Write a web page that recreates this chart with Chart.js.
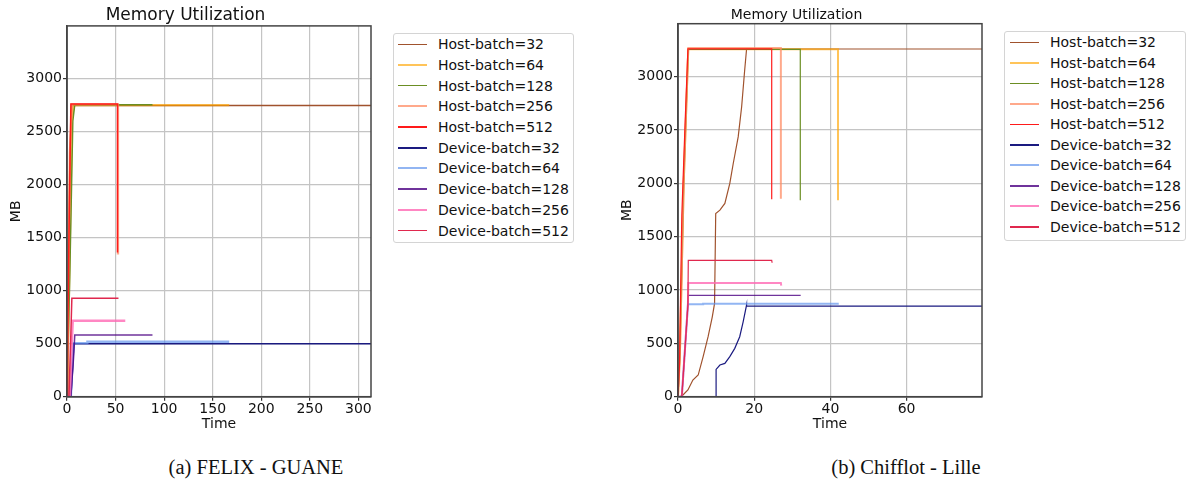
<!DOCTYPE html>
<html>
<head>
<meta charset="utf-8">
<script src="https://cdn.jsdelivr.net/npm/chart.js@4.4.1/dist/chart.umd.min.js"></script>
<style>
  body { margin: 0; background: #fff; width: 1189px; height: 486px; overflow: hidden; position: relative; font-family: "DejaVu Sans", sans-serif; }
  canvas { position: absolute; top: 0; }
  #felixChart { left: 0; }
  #chifChart { left: 611px; }
  .legend { position: absolute; border: 1px solid #d4d4d4; border-radius: 3px; background: #fff; box-sizing: border-box; }
  .legend .row { display: flex; align-items: center; font-size: 14px; color: #111; white-space: nowrap; }
  .legend .swatch { flex: none; }
  .caption { position: absolute; width: 400px; text-align: center; font-family: "Liberation Serif", serif; font-size: 20.5px; line-height: 24px; top: 455px; color: #111; }
</style>
</head>
<body>
<canvas id="felixChart" width="380" height="440"></canvas>
<canvas id="chifChart" width="380" height="440"></canvas>
<div id="felixLegend" class="legend" style="left:393px; top:33px; width:181px; height:210px;"></div>
<div id="chifLegend" class="legend" style="left:1004px; top:31px; width:182px; height:210px;"></div>
<div class="caption" style="left:56px;">(a) FELIX - GUANE</div>
<div class="caption" style="left:706px;">(b) Chifflot - Lille</div>
<script>
const seriesLabels = ['Host-batch=32', 'Host-batch=64', 'Host-batch=128', 'Host-batch=256', 'Host-batch=512',
                      'Device-batch=32', 'Device-batch=64', 'Device-batch=128', 'Device-batch=256', 'Device-batch=512'];
const seriesColors = ['#a0522d', 'rgba(255,165,0,0.65)', '#6b8e23', 'rgba(255,140,100,0.75)', '#ff1a1a',
                      '#1a1a80', 'rgba(100,149,237,0.7)', 'rgba(75,0,130,0.8)', 'rgba(255,105,180,0.8)', '#e0284e'];
const extraWidth = [0, 0.8, 0, 0.8, 0, 0, 0.8, 0, 0.8, 0];

const yTicks = [0, 500, 1000, 1500, 2000, 2500, 3000];
const felixXTicks = [0, 50, 100, 150, 200, 250, 300];
const chifXTicks = [0, 20, 40, 60];

// FELIX - GUANE : [time, MB]
const felixHost32 = [[0, 0], [1, 600], [3, 2300], [5, 2745], [313, 2745]];
const felixHost64 = [[0, 0], [2, 1000], [5, 2600], [7, 2748], [167, 2748]];
const felixHost128 = [[0, 0], [3, 1200], [6, 2600], [8, 2752], [88, 2752]];
const felixHost256 = [[0, 0], [1, 900], [3, 2300], [5, 2755], [52.5, 2755], [52.5, 1340]];
const felixHost512 = [[0, 0], [2, 1500], [4, 2760], [52, 2760], [52, 1360]];
const felixDev32 = [[0, 0], [4, 0], [6, 300], [7, 500], [313, 500]];
const felixDev64 = [[0, 0], [4, 0], [6, 400], [7, 505], [21, 505], [21, 518], [167, 518]];
const felixDev128 = [[0, 0], [4, 0], [7, 400], [8, 581], [88, 581]];
const felixDev256 = [[0, 0], [3, 0], [5, 500], [6, 716], [60, 716]];
const felixDev512 = [[0, 0], [2, 0], [4, 600], [5, 927], [53, 927]];

// Chifflot - Lille : [time, MB]
const chifHost32 = [[0, 0], [0.5, 0], [1.3, 16], [2.6, 63], [3.9, 156], [5.3, 203], [6.6, 375], [7.9, 562], [9.0, 749],
                    [9.6, 874], [9.9, 1717], [11.0, 1748], [12.3, 1811], [13.6, 1998], [14.5, 2185], [15.8, 2434],
                    [16.7, 2715], [17.5, 3059], [18.0, 3258], [79.8, 3258]];
const chifHost64 = [[0, 0], [0.5, 400], [1.5, 2000], [2.7, 3255], [42, 3255], [42, 1840]];
const chifHost128 = [[0, 0], [0.5, 400], [1.5, 2000], [2.7, 3255], [32.1, 3255], [32.1, 1840]];
const chifHost256 = [[0, 0], [0.5, 400], [1.5, 2000], [2.7, 3268], [27, 3268], [27, 1855]];
const chifHost512 = [[0, 0], [0.4, 300], [1, 1700], [1.8, 2500], [2.6, 3260], [24.6, 3260], [24.6, 1850]];
const chifDev32 = [[0, 0], [10, 0], [10, 256], [11, 297], [12.3, 312], [13.6, 375], [14.9, 453], [16.2, 562],
                   [17.1, 702], [18, 859], [18, 849], [79.8, 849]];
const chifDev64 = [[0, 0], [1, 0], [2.6, 860], [2.7, 866], [6.6, 866], [6.6, 870], [42.2, 870]];
const chifDev128 = [[0, 0], [1, 0], [2.6, 860], [2.7, 949], [32.2, 949]];
const chifDev256 = [[0, 0], [1, 0], [2.6, 860], [2.7, 1065], [27, 1065], [27.1, 1040]];
const chifDev512 = [[0, 0], [1, 0], [2.6, 860], [2.7, 1277], [24.6, 1277], [24.7, 1255]];

const felixSeries = [felixHost32, felixHost64, felixHost128, felixHost256, felixHost512,
                     felixDev32, felixDev64, felixDev128, felixDev256, felixDev512];
const chifSeries = [chifHost32, chifHost64, chifHost128, chifHost256, chifHost512,
                    chifDev32, chifDev64, chifDev128, chifDev256, chifDev512];

Chart.defaults.font.family = "'DejaVu Sans', sans-serif";
Chart.defaults.color = '#111';

// matplotlib style box around the axes
const framePlugin = {
    id: 'frame',
    afterDatasetsDraw(chart) {
        const { ctx, chartArea: a } = chart;
        ctx.save();
        ctx.strokeStyle = '#444';
        ctx.lineWidth = 1.5;
        ctx.strokeRect(a.left, a.top, a.right - a.left, a.bottom - a.top);
        ctx.restore();
    }
};

function buildLegend(chart, el, rowHeight, swatchLeft, gap) {
    chart.data.datasets.forEach(ds => {
        const row = document.createElement('div');
        row.className = 'row';
        row.style.height = rowHeight + 'px';
        const sw = document.createElement('span');
        sw.className = 'swatch';
        sw.style.width = '29px';
        sw.style.height = (ds.borderWidth > 1.6 ? 2 : 1.5) + 'px';
        sw.style.background = ds.borderColor;
        sw.style.marginLeft = swatchLeft + 'px';
        sw.style.marginRight = gap + 'px';
        const txt = document.createElement('span');
        txt.textContent = ds.label;
        row.appendChild(sw);
        row.appendChild(txt);
        el.appendChild(row);
    });
}

const fixedTicks = values => scale => { scale.ticks = values.map(v => ({ value: v })); };

function makeChart(id, series, xMax, xTicks, titleSize, titlePad, baseWidth) {
    const ctx = document.getElementById(id).getContext('2d');
    return new Chart(ctx, {
        type: 'line',
        data: {
            datasets: series.map((pts, i) => ({
                label: seriesLabels[i],
                data: pts.map(p => ({ x: p[0], y: p[1] })),
                borderColor: seriesColors[i],
                borderWidth: baseWidth + extraWidth[i],
                pointRadius: 0,
                fill: false,
                tension: 0,
                order: -i
            }))
        },
        options: {
            responsive: false,
            animation: false,
            layout: { padding: { left: 0, right: 9, top: 0, bottom: 3.3 } },
            plugins: {
                legend: { display: false },
                tooltip: { enabled: false },
                title: {
                    display: true,
                    text: 'Memory Utilization',
                    color: '#111',
                    font: { size: titleSize, weight: 'normal' },
                    padding: titlePad
                }
            },
            scales: {
                x: {
                    type: 'linear',
                    min: 0,
                    max: xMax,
                    afterBuildTicks: fixedTicks(xTicks),
                    ticks: { padding: 0, maxRotation: 0, autoSkip: false, font: { size: 14 }, callback: v => String(v) },
                    grid: { color: '#c4c4c4', lineWidth: 1.2, tickLength: 4, tickColor: '#333', tickWidth: 1.2 },
                    border: { color: '#444', width: 1.5 },
                    title: { display: true, text: 'Time', font: { size: 14 }, padding: { top: 0, bottom: 4.3 } },
                    afterFit: s => { s.height = 40; }
                },
                y: {
                    type: 'linear',
                    min: 0,
                    max: 3495,
                    afterBuildTicks: fixedTicks(yTicks),
                    ticks: { padding: 1, font: { size: 14 }, callback: v => String(v) },
                    grid: { color: '#c4c4c4', lineWidth: 1.2, tickLength: 4, tickColor: '#333', tickWidth: 1.2 },
                    border: { color: '#444', width: 1.5 },
                    title: { display: true, text: 'MB', font: { size: 14 }, padding: { top: 7.6, bottom: 0 } },
                    afterFit: s => { s.width = 67; }
                }
            }
        },
        plugins: [framePlugin]
    });
}

const felixChart = makeChart('felixChart', felixSeries, 313, felixXTicks, 17, { top: 5.5, bottom: 0 }, 1.5);
const chifChart = makeChart('chifChart', chifSeries, 79.8, chifXTicks, 14, { top: 6.5, bottom: 0.4 }, 1.2);

buildLegend(felixChart, document.getElementById('felixLegend'), 20.7, 4, 11);
buildLegend(chifChart, document.getElementById('chifLegend'), 20.5, 5, 11);
</script>
</body>
</html>
